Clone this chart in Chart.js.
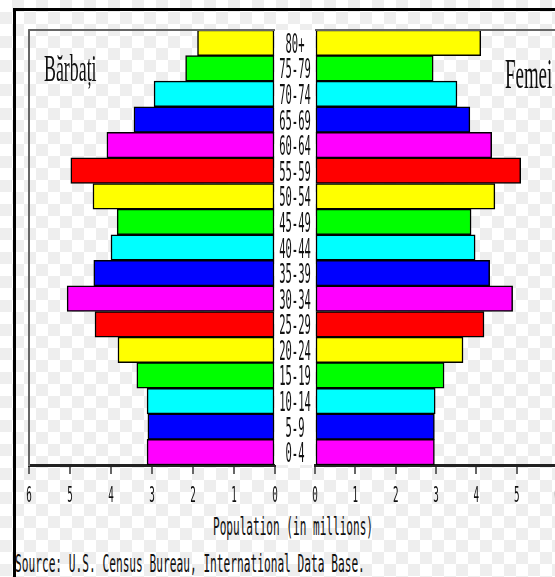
<!DOCTYPE html>
<html>
<head>
<meta charset="utf-8">
<script src="https://cdn.jsdelivr.net/npm/chart.js@4.4.1/dist/chart.umd.min.js"></script>
<style>
  html, body { margin: 0; padding: 0; background: #fff; }
  #wrap {
    position: relative; width: 555px; height: 577px; overflow: hidden;
    background-color: #fff;
    background-image:
      linear-gradient(45deg, #eeeeee 25%, transparent 25%, transparent 75%, #eeeeee 75%),
      linear-gradient(45deg, #eeeeee 25%, transparent 25%, transparent 75%, #eeeeee 75%);
    background-size: 24px 24px;
    background-position: 0 0, 12px 12px;
  }
  #frame {
    position: absolute; left: 13px; top: 8px; width: 600px; height: 600px;
    border-left: 3px solid #000; border-top: 3px solid #000;
  }
  canvas { position: absolute; top: 20px; }
  #left { left: 19px; }
  #right { left: 265px; }
  .txt { position: absolute; white-space: nowrap; transform-origin: 0 0; color: #111; }
  .serif { font-family: "Liberation Serif", "DejaVu Serif", serif; }
  .mono { font-family: "DejaVu Sans Mono", monospace; line-height: 1; }
</style>
</head>
<body>
<div id="wrap">
  <div id="frame"></div>
  <canvas id="left" width="266" height="490"></canvas>
  <canvas id="right" width="310" height="490"></canvas>
  <div class="txt serif" style="left:44px; top:49px; font-size:38px; line-height:38px; transform:scaleX(0.47);">Bărbați</div>
  <div class="txt serif" style="left:505px; top:53px; font-size:42px; line-height:42px; transform:scaleX(0.45);">Femei</div>
  <div class="txt mono" style="left:213px; top:514px; font-size:25px; transform:scaleX(0.443);">Population (in millions)</div>
  <div class="txt mono" style="left:15px; top:551px; font-size:25px; transform:scaleX(0.447);">Source: U.S. Census Bureau, International Data Base.</div>
</div>
<script>
// age groups, bottom to top
const ageGroups = ['0-4', '5-9', '10-14', '15-19', '20-24', '25-29', '30-34', '35-39', '40-44',
                   '45-49', '50-54', '55-59', '60-64', '65-69', '70-74', '75-79', '80+'];
// population in millions
const males   = [3.12, 3.10, 3.12, 3.37, 3.83, 4.39, 5.07, 4.42, 4.00, 3.85, 4.44, 4.98, 4.10, 3.44, 2.95, 2.18, 1.89];
const females = [2.96, 2.96, 2.98, 3.20, 3.67, 4.19, 4.90, 4.33, 3.97, 3.87, 4.46, 5.10, 4.38, 3.84, 3.52, 2.93, 4.11];
const xTicks = [0, 1, 2, 3, 4, 5, 6];

const palette = ['#ff00ff', '#0000ff', '#00ffff', '#00ff00', '#ffff00', '#ff0000'];
const barColors = ageGroups.map((g, i) => palette[i % palette.length]);

// squeezed text, like the old bitmap font
function narrowText(ctx, text, x, y, size, sx) {
  ctx.save();
  ctx.translate(x, y);
  ctx.scale(sx, 1);
  ctx.font = size + 'px "DejaVu Sans Mono", monospace';
  ctx.fillStyle = '#111';
  ctx.textAlign = 'center';
  ctx.textBaseline = 'alphabetic';
  ctx.fillText(text, 0, 0);
  ctx.restore();
}

const pyramidText = {
  id: 'pyramidText',
  beforeDraw(chart) {
    const ys = chart.scales.y;
    if (chart.options.ageLabels) {
      chart.ctx.fillStyle = '#fff';
      chart.ctx.fillRect(ys.left, ys.top, ys.width, ys.height);
    }
  },
  afterDraw(chart) {
    const ctx = chart.ctx;
    const xs = chart.scales.x;
    const ys = chart.scales.y;
    const a = chart.chartArea;
    // gray frame on top
    ctx.save();
    ctx.strokeStyle = '#666';
    ctx.lineWidth = 2;
    ctx.beginPath();
    ctx.moveTo(a.left, a.top);
    ctx.lineTo(a.right, a.top);
    if (!chart.options.ageLabels) {
      ctx.moveTo(a.left, a.top);
      ctx.lineTo(a.left, a.bottom);
    }
    ctx.stroke();
    ctx.restore();
    xTicks.forEach(v => {
      narrowText(ctx, String(v), xs.getPixelForValue(v), xs.top + 37, 22, 0.42);
    });
    if (chart.options.ageLabels) {
      ageGroups.forEach((g, i) => {
        narrowText(ctx, g, ys.left + ys.width / 2, ys.getPixelForValue(i) + 10, 27, 0.39);
      });
    }
  }
};

function makeSide(id, values, isLeft) {
  return new Chart(document.getElementById(id), {
    type: 'bar',
    data: {
      labels: ageGroups,
      datasets: [{
        data: values,
        backgroundColor: barColors,
        borderColor: '#000',
        borderWidth: 1.5,
        borderSkipped: false,
        barPercentage: 1,
        categoryPercentage: 1
      }]
    },
    options: {
      indexAxis: 'y',
      responsive: false,
      animation: false,
      ageLabels: !isLeft,
      layout: { padding: isLeft ? { left: 10, right: 10, top: 10, bottom: 0 } : { left: 10, right: 18, top: 10, bottom: 0 } },
      plugins: { legend: { display: false }, tooltip: { enabled: false } },
      scales: {
        x: {
          min: 0, max: 6,
          reverse: isLeft,
          position: 'bottom',
          afterBuildTicks: s => { s.ticks = xTicks.map(v => ({ value: v })); },
          ticks: { display: false },
          grid: { display: true, drawOnChartArea: false, tickLength: 9, color: '#666', lineWidth: 2 },
          border: { color: '#222', width: 3 },
          afterFit: s => { s.height = 45; }
        },
        y: {
          type: 'category',
          reverse: true,
          position: 'left',
          ticks: { display: false },
          grid: { display: false },
          border: { display: isLeft, color: '#777', width: 2 },
          afterFit: s => { s.width = isLeft ? 0 : 40; }
        }
      }
    },
    plugins: [pyramidText]
  });
}

makeSide('left', males, true);
makeSide('right', females, false);
</script>
</body>
</html>
